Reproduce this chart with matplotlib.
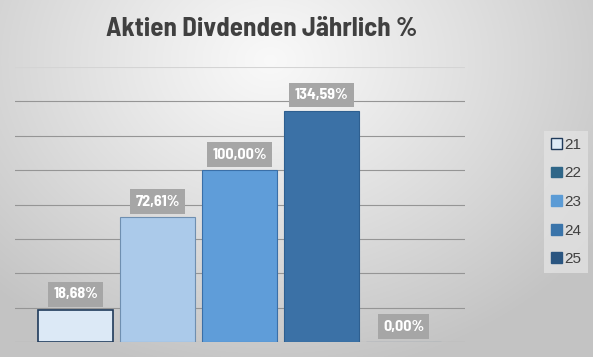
import numpy as np
import matplotlib
matplotlib.use("Agg")
import matplotlib.pyplot as plt
from matplotlib.patches import Patch

series = ["21", "22", "23", "24", "25"]
values = [18.68, 72.61, 100.00, 134.59, 0.00]
labels = ["18,68%", "72,61%", "100,00%", "134,59%", "0,00%"]
bar_colors = ["#dce9f6", "#abcaea", "#5f9dd9", "#3b71a6", "#2a5580"]
legend_colors = ["#ddeaf6", "#2f6688", "#5b9bd5", "#3a74aa", "#2a5580"]

narrow = ["Barlow Semi Condensed", "DejaVu Sans"]

W, H = 593, 357
fig = plt.figure(figsize=(W / 100, H / 100), dpi=100)

# radial gradient background
bg = fig.add_axes([0, 0, 1, 1])
yy, xx = np.mgrid[0:H, 0:W]
d = np.sqrt(((xx - 270) / 400.0) ** 2 + ((yy - 60) / 320.0) ** 2)
d = np.clip(d, 0, 1)
g = 0.975 - 0.21 * d ** 1.1
img = np.dstack([g, g, g])
bg.imshow(img, aspect="auto", extent=[0, 1, 0, 1], origin="upper")
bg.axis("off")

ax = fig.add_axes([15 / W, 15 / H, 450 / W, 275 / H])
ax.set_facecolor("none")
x = np.arange(len(series))
edges = ["#1f3a5a", "#6f8fb0", "#3a6fa8", "#2e5f90", "#2a5580"]
for i in range(len(series)):
    ax.bar(x[i], values[i], width=0.915, color=bar_colors[i],
           edgecolor=edges[i], linewidth=1.2 if i == 0 else 0.8, zorder=3)
    ax.text(x[i], values[i] + 9, labels[i], ha="center", va="center",
            color="white", fontsize=11.5, fontweight="bold", family=narrow,
            bbox=dict(boxstyle="square,pad=0.33", fc="#a6a6a6", ec="none"),
            zorder=5)

ax.set_ylim(0, 160)
ax.set_xlim(-0.738, 4.75)
ax.set_yticks(np.arange(0, 161, 20))
ax.yaxis.grid(True, color="#959595", linewidth=0.8, zorder=0)
ax.set_axisbelow(True)
ax.tick_params(left=False, bottom=False, labelleft=False, labelbottom=False)
for s in ax.spines.values():
    s.set_visible(False)
ax.get_ygridlines()[-1].set_color("#d4d4d4")

fig.text(262 / W, 1 - 29 / H, "Aktien Divdenden Jährlich %", ha="center",
         va="center", fontsize=19.3, fontweight="bold", color="#404040",
         family=narrow)

handles = [Patch(facecolor=legend_colors[i],
                 edgecolor="#1f3a5a" if i == 0 else legend_colors[i],
                 linewidth=1.0) for i in range(len(series))]
leg = fig.legend(handles, series, loc="center", bbox_to_anchor=(566 / W, 1 - 202 / H),
                 frameon=True, prop={"family": ["Liberation Sans", "DejaVu Sans"], "size": 11},
                 labelcolor="#404040",
                 handlelength=0.7, handleheight=0.7, handletextpad=0.15,
                 labelspacing=0.95, borderpad=0.45, borderaxespad=0, fancybox=False)
leg.get_frame().set_facecolor("#e2e2e2")
leg.get_frame().set_edgecolor("none")

fig.savefig("out.png", dpi=100)
